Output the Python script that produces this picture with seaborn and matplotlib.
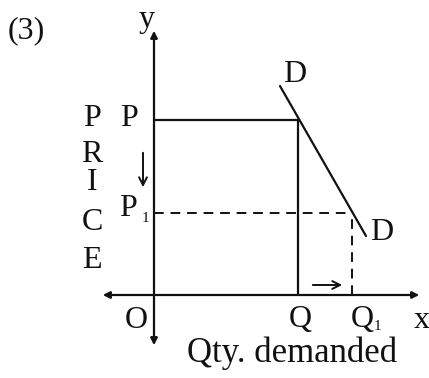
import numpy as np
import pandas as pd
import matplotlib.pyplot as plt
import seaborn as sns

# demand curve D-D (quantity, price), origin at O
demand_q = [126, 212]
demand_p = [209, 59]
price_levels = {'P': 175, 'P1': 82}
qty_levels = {'Q': 144, 'Q1': 198}

sns.set_style('white')
plt.rcParams['font.family'] = ['Liberation Serif', 'DejaVu Serif']

fig = plt.figure(figsize=(4.29, 3.78), dpi=100)
ax = fig.add_axes([0, 0, 1, 1])
ax.set_xlim(-154, 275)
ax.set_ylim(-83, 295)
ax.axis('off')

ink = '#111111'
fs = 23

# axes with arrows
ax.annotate('', xy=(268, 0), xytext=(-54, 0),
            arrowprops=dict(arrowstyle='<|-|>', color=ink, lw=1.6, mutation_scale=10))
ax.annotate('', xy=(0, 267), xytext=(0, -53),
            arrowprops=dict(arrowstyle='<|-|>', color=ink, lw=1.6, mutation_scale=10))

# demand curve
df = pd.DataFrame({'q': demand_q, 'p': demand_p})
sns.lineplot(data=df, x='q', y='p', ax=ax, color=ink, lw=1.6, sort=False)

P, P1 = price_levels['P'], price_levels['P1']
Q, Q1 = qty_levels['Q'], qty_levels['Q1']
ax.plot([0, Q], [P, P], color=ink, lw=1.6)
ax.plot([Q, Q], [0, P], color=ink, lw=1.6)
ax.plot([0, Q1], [P1, P1], color=ink, lw=1.4, ls=(0, (5, 3.5)))
ax.plot([Q1, Q1], [0, P1], color=ink, lw=1.4, ls=(0, (5, 3.5)))

# shift arrows
ax.annotate('', xy=(-11, 105), xytext=(-11, 145),
            arrowprops=dict(arrowstyle='->', color=ink, lw=1.4, mutation_scale=14))
ax.annotate('', xy=(191, 10), xytext=(156, 10),
            arrowprops=dict(arrowstyle='->', color=ink, lw=1.4, mutation_scale=14))

# labels
ax.text(-146, 264, '(3)', fontsize=fs, ha='left', va='center', color=ink)
ax.text(-7, 276, 'y', fontsize=fs, ha='center', va='center', color=ink)
ax.text(-16, 176, 'P', fontsize=fs, ha='right', va='center', color=ink)
ax.text(-35, 87, 'P', fontsize=fs, ha='left', va='center', color=ink)
ax.text(-9, 77, '1', fontsize=11, ha='center', va='center', color=ink)
for ch, yy in zip('PRICE', [176, 141, 113, 73, 35]):
    ax.text(-62, yy, ch, fontsize=fs, ha='center', va='center', color=ink)
ax.text(-18, -25, 'O', fontsize=fs, ha='center', va='center', color=ink)
ax.text(Q + 2, -25, 'Q', fontsize=fs, ha='center', va='center', color=ink)
ax.text(Q1 + 10, -25, 'Q', fontsize=fs, ha='center', va='center', color=ink)
ax.text(Q1 + 25, -32, '1', fontsize=11, ha='center', va='center', color=ink)
ax.text(268, -26, 'x', fontsize=fs, ha='center', va='center', color=ink)
ax.text(138, -58, 'Qty. demanded', fontsize=25, ha='center', va='center', color=ink)
ax.text(141, 221, 'D', fontsize=fs, ha='center', va='center', color=ink)
ax.text(228, 62, 'D', fontsize=fs, ha='center', va='center', color=ink)

fig.savefig('out.png', dpi=100)
